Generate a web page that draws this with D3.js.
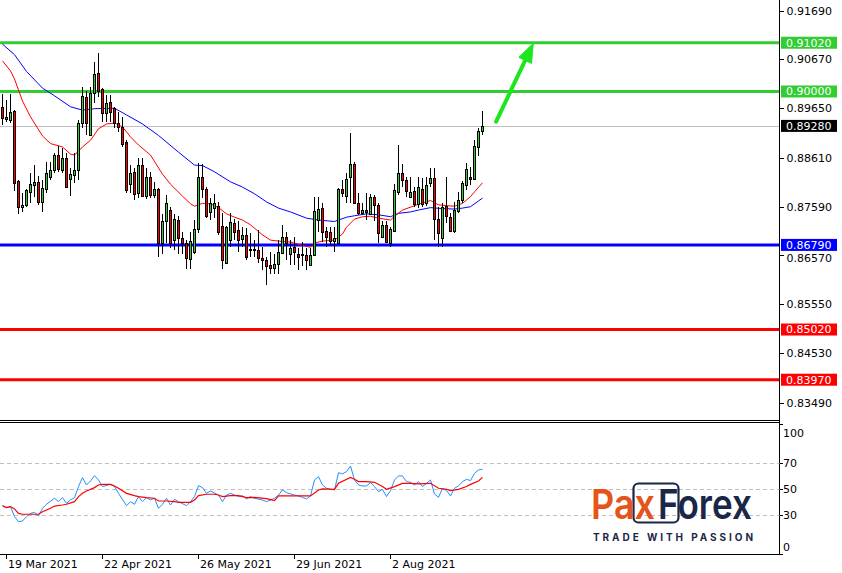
<!DOCTYPE html>
<html><head><meta charset="utf-8">
<script src="https://cdn.jsdelivr.net/npm/d3@7"></script>
<style>body{margin:0;background:#fff;overflow:hidden}svg{display:block}</style>
</head><body>
<script>
// ---------- DATA ----------
const openP = [0.8968,0.8943,0.8940,0.8959,0.8813,0.8758,0.8763,0.8790,0.8805,0.8810,
0.8769,0.8797,0.8821,0.8836,0.8867,0.8836,0.8860,0.8816,0.8825,0.8836,
0.8934,0.8988,0.8909,0.8996,0.9038,0.9005,0.8954,0.8977,0.8965,0.8934,
0.8925,0.8894,0.8806,0.8831,0.8787,0.8846,0.8782,0.8822,0.8783,0.8796,
0.8682,0.8728,0.8752,0.8689,0.8731,0.8693,0.8682,0.8649,0.8665,0.8712,
0.8822,0.8796,0.8747,0.8756,0.8761,0.8719,0.8642,0.8689,0.8724,0.8710,
0.8691,0.8700,0.8668,0.8670,0.8668,0.8651,0.8648,0.8636,0.8630,0.8640,
0.8662,0.8696,0.8661,0.8675,0.8661,0.8661,0.8658,0.8637,0.8658,0.8731,
0.8756,0.8708,0.8705,0.8687,0.8682,0.8797,0.8781,0.8822,0.8848,0.8767,
0.8745,0.8753,0.8744,0.8779,0.8763,0.8696,0.8721,0.8684,0.8709,0.8790,
0.8829,0.8815,0.8780,0.8792,0.8764,0.8797,0.8766,0.8809,0.8820,0.8733,
0.8693,0.8760,0.8738,0.8709,0.8751,0.8774,0.8804,0.8822,0.8816,0.8883,
0.8918];
const highP = [0.8995,0.8982,0.8995,0.8961,0.8815,0.8787,0.8797,0.8829,0.8846,0.8823,
0.8815,0.8853,0.8853,0.8872,0.8885,0.8881,0.8871,0.8839,0.8871,0.8940,
0.9010,0.9000,0.9010,0.9062,0.9081,0.9007,0.8993,0.8993,0.8968,0.8958,
0.8946,0.8898,0.8846,0.8839,0.8860,0.8860,0.8839,0.8832,0.8811,0.8799,
0.8744,0.8783,0.8759,0.8744,0.8740,0.8705,0.8689,0.8705,0.8731,0.8850,
0.8848,0.8801,0.8777,0.8786,0.8769,0.8746,0.8719,0.8745,0.8733,0.8728,
0.8717,0.8714,0.8704,0.8689,0.8710,0.8675,0.8654,0.8665,0.8661,0.8689,
0.8721,0.8707,0.8689,0.8696,0.8672,0.8686,0.8672,0.8672,0.8779,0.8779,
0.8766,0.8717,0.8717,0.8717,0.8799,0.8815,0.8830,0.8913,0.8853,0.8787,
0.8766,0.8788,0.8786,0.8783,0.8767,0.8728,0.8728,0.8717,0.8806,0.8888,
0.8848,0.8822,0.8822,0.8801,0.8822,0.8818,0.8822,0.8839,0.8839,0.8759,
0.8766,0.8822,0.8745,0.8769,0.8790,0.8813,0.8850,0.8843,0.8898,0.8923,
0.8960];
const lowP = [0.8930,0.8936,0.8934,0.8792,0.8743,0.8747,0.8759,0.8766,0.8780,0.8763,
0.8747,0.8787,0.8815,0.8829,0.8832,0.8829,0.8800,0.8782,0.8808,0.8815,
0.8923,0.8909,0.8906,0.8975,0.8989,0.8937,0.8937,0.8937,0.8923,0.8915,
0.8884,0.8787,0.8787,0.8772,0.8777,0.8780,0.8775,0.8777,0.8777,0.8653,
0.8661,0.8682,0.8672,0.8668,0.8661,0.8661,0.8628,0.8628,0.8661,0.8703,
0.8777,0.8735,0.8731,0.8735,0.8700,0.8628,0.8639,0.8674,0.8689,0.8665,
0.8675,0.8648,0.8654,0.8654,0.8641,0.8627,0.8595,0.8619,0.8619,0.8619,
0.8661,0.8648,0.8637,0.8636,0.8627,0.8634,0.8627,0.8636,0.8656,0.8707,
0.8686,0.8675,0.8679,0.8665,0.8681,0.8780,0.8766,0.8766,0.8766,0.8742,
0.8742,0.8731,0.8742,0.8728,0.8682,0.8693,0.8682,0.8675,0.8707,0.8783,
0.8801,0.8780,0.8777,0.8759,0.8756,0.8759,0.8760,0.8801,0.8689,0.8675,
0.8675,0.8725,0.8705,0.8703,0.8745,0.8766,0.8794,0.8804,0.8815,0.8865,
0.8909];
const closeP = [0.8945,0.8946,0.8958,0.8809,0.8758,0.8763,0.8794,0.8806,0.8811,0.8769,
0.8798,0.8829,0.8836,0.8867,0.8837,0.8860,0.8801,0.8827,0.8836,0.8934,
0.8991,0.8934,0.8996,0.9037,0.9000,0.8956,0.8975,0.8958,0.8934,0.8925,
0.8891,0.8794,0.8829,0.8786,0.8846,0.8782,0.8822,0.8783,0.8796,0.8682,
0.8729,0.8766,0.8682,0.8733,0.8693,0.8682,0.8651,0.8687,0.8712,0.8822,
0.8796,0.8739,0.8766,0.8766,0.8705,0.8647,0.8717,0.8726,0.8707,0.8689,
0.8700,0.8653,0.8671,0.8668,0.8651,0.8648,0.8634,0.8630,0.8640,0.8665,
0.8696,0.8684,0.8672,0.8665,0.8654,0.8658,0.8648,0.8658,0.8749,0.8754,
0.8707,0.8695,0.8687,0.8693,0.8797,0.8787,0.8816,0.8848,0.8767,0.8745,
0.8753,0.8747,0.8779,0.8763,0.8703,0.8721,0.8686,0.8712,0.8794,0.8829,
0.8815,0.8792,0.8789,0.8764,0.8801,0.8764,0.8804,0.8820,0.8733,0.8703,
0.8759,0.8739,0.8709,0.8752,0.8774,0.8809,0.8837,0.8816,0.8885,0.8918,
0.8928];

// moving averages (bar index, price)
const maFastIdx = [0,2,3,5,7,10,12,15,17,18,20,22,24,26,28,30,32,34,37,40,42,45,47,48,50,52,54,56,58,60,62,65,67,70,72,75,77,78,80,83,85,86,88,90,92,94,97,98,100,104,107,108,109,111,113,115,117,118,120];
const maFastVal = [0.9064,0.9043,0.9026,0.8980,0.8947,0.8907,0.8891,0.8884,0.8869,0.8867,0.8884,0.8898,0.8922,0.8932,0.8934,0.8926,0.8905,0.8888,0.8867,0.8827,0.8806,0.8781,0.8765,0.8760,0.8766,0.8765,0.8757,0.8744,0.8737,0.8731,0.8721,0.8700,0.8689,0.8686,0.8685,0.8678,0.8674,0.8683,0.8687,0.8689,0.8702,0.8716,0.8733,0.8738,0.8739,0.8735,0.8731,0.8739,0.8752,0.8764,0.8772,0.8767,0.8763,0.8761,0.8760,0.8766,0.8780,0.8790,0.8809];
const maSlowIdx = [0,3,6,10,13,17,20,23,28,31,35,39,44,48,50,53,57,60,63,66,69,72,76,79,83,86,88,91,94,97,99,102,104,107,110,113,115,117,119,120];
const maSlowVal = [0.9099,0.9077,0.9042,0.9007,0.8991,0.8968,0.8961,0.8964,0.8965,0.8951,0.8932,0.8908,0.8873,0.8846,0.8845,0.8832,0.8811,0.8800,0.8786,0.8769,0.8756,0.8748,0.8735,0.8731,0.8728,0.8737,0.8740,0.8744,0.8742,0.8738,0.8745,0.8748,0.8752,0.8757,0.8755,0.8754,0.8756,0.8759,0.8771,0.8777];

// RSI and its signal line (bar index, value)
const rsiIdx = [0,1,2,3,4,5,6,7,8,9,10,11,13,14,15,16,17,18,19,20,21,22,23,24,25,27,28,29,31,32,33,34,35,36,37,38,39,40,41,42,43,44,46,47,48,49,50,51,52,54,55,56,57,59,60,61,62,63,65,66,68,69,70,71,73,74,75,76,77,78,79,80,81,82,83,84,85,86,87,88,89,90,91,92,93,94,95,96,97,98,99,100,101,102,103,104,105,106,107,108,109,110,111,112,113,114,115,116,117,118,119,120];
const rsiVal = [37.4,35.9,36.7,29.0,25.1,25.6,29.0,31.5,32.3,29.5,35.4,38.5,43.1,40.5,43.6,39.2,41.8,43.6,52.1,59.0,53.3,56.4,60.5,57.2,52.1,53.8,52.1,46.9,37.4,40.5,38.5,44.4,40.5,43.6,41.8,43.1,35.4,38.5,43.1,37.9,42.3,40.5,37.4,40.5,44.4,52.8,51.3,46.9,48.7,45.6,40.5,45.6,46.9,44.4,45.1,42.6,44.4,43.1,41.8,40.5,43.1,45.6,49.5,47.4,45.6,44.9,43.8,42.6,44.9,57.2,59.7,53.3,50.8,50.0,49.5,62.8,61.8,63.6,67.9,57.2,53.3,52.6,52.6,55.1,52.1,48.2,50.0,44.4,49.0,57.2,60.3,60.3,55.9,55.4,53.3,55.9,52.1,54.6,57.2,46.4,43.8,50.8,49.0,44.9,50.8,52.6,55.9,57.7,56.7,62.3,64.9,65.4];
const sigIdx = [0,1,2,3,4,5,7,9,10,12,13,15,16,18,19,20,21,23,24,25,27,28,29,31,33,34,36,38,39,41,43,44,47,48,49,51,53,54,55,57,59,61,63,66,68,69,72,74,77,79,80,83,84,87,88,89,91,93,95,96,98,100,102,104,107,109,111,112,114,116,117,119,120];
const sigVal = [37.4,35.9,36.7,34.9,31.5,30.8,30.8,30.8,32.8,35.4,37.1,37.9,38.5,40.5,44.4,46.9,48.7,51.3,53.3,53.8,53.8,52.6,50.8,46.9,45.1,44.4,43.6,43.1,41.0,41.0,40.5,40.0,40.0,41.8,45.1,46.2,46.2,45.6,44.4,45.1,45.1,43.6,43.8,42.8,41.3,44.9,44.9,44.9,44.9,49.5,50.3,50.0,54.6,59.2,57.7,55.9,55.9,55.4,52.1,50.0,52.1,54.6,54.6,54.1,54.6,50.8,50.0,49.0,50.0,52.1,53.8,56.4,59.2];

const priceTicks = [0.91690,0.90670,0.89650,0.88610,0.87590,0.86570,0.85550,0.84530,0.83490];
const levelValues = [0.91020,0.90000,0.86790,0.85020,0.83970];
const lastPrice = 0.89280;
const rsiTicks = [100,70,50,30,0];
const rsiLevels = [70,50,30];
const dateLabels = ["19 Mar 2021","22 Apr 2021","26 May 2021","29 Jun 2021","2 Aug 2021"];
const dateIdx = [1,25,49,73,97];
const arrowFrom = [123.4,0.8937];
const arrowTo = [132.7,0.9101];

// ---------- STYLE ----------
const levelColors = ["#32cd32","#32cd32","#0000ff","#ff0000","#ff0000"];
const FONT = "DejaVu Sans, Verdana, sans-serif";

const W=842,H=573, AX=779.5;
const svg=d3.select("body").append("svg").attr("width",W).attr("height",H)
  .style("font-family",FONT);

const x=d3.scaleLinear().domain([0,120]).range([2.5,482.5]);
const y=d3.scaleLinear().domain([0.83148,0.91914]).range([419,0]);
const yr=d3.scaleLinear().domain([0,100]).range([554.3,424.3]);

// gray last price line
svg.append("line").attr("x1",0).attr("x2",AX).attr("y1",Math.round(y(lastPrice))+0.5).attr("y2",Math.round(y(lastPrice))+0.5)
  .attr("stroke","#c0c0c0").attr("stroke-width",1);

// level lines
svg.selectAll("line.lvl").data(levelValues).join("line").attr("class","lvl")
  .attr("x1",0).attr("x2",AX).attr("y1",d=>y(d)).attr("y2",d=>y(d))
  .attr("stroke",(d,i)=>levelColors[i]).attr("stroke-width",3);

// moving averages
const lineGen=d3.line().x(d=>x(d[0])).y(d=>y(d[1]));
svg.append("path").datum(d3.zip(maSlowIdx,maSlowVal)).attr("d",lineGen)
  .attr("fill","none").attr("stroke","#0000ff").attr("stroke-width",1);
svg.append("path").datum(d3.zip(maFastIdx,maFastVal)).attr("d",lineGen)
  .attr("fill","none").attr("stroke","#ff0000").attr("stroke-width",1);

// candles
const candles=d3.range(openP.length).map(i=>({i,o:openP[i],h:highP[i],l:lowP[i],c:closeP[i]}));
const cg=svg.append("g").attr("shape-rendering","crispEdges");
cg.selectAll("line").data(candles).join("line")
  .attr("x1",d=>x(d.i)).attr("x2",d=>x(d.i))
  .attr("y1",d=>Math.round(y(d.h))).attr("y2",d=>Math.round(y(d.l)))
  .attr("stroke","#000").attr("stroke-width",1);
cg.selectAll("rect").data(candles).join("rect")
  .attr("x",d=>x(d.i)-1).attr("width",2)
  .attr("y",d=>Math.round(y(Math.max(d.o,d.c)))+0.5)
  .attr("height",d=>Math.max(1,Math.round(y(Math.min(d.o,d.c)))-Math.round(y(Math.max(d.o,d.c)))))
  .attr("fill",d=>d.c>=d.o?"#32cd32":"#ff0000").attr("stroke","#000").attr("stroke-width",1);

// arrow
const ax1=x(arrowFrom[0]), ay1=y(arrowFrom[1]), ax2=x(arrowTo[0]), ay2=y(arrowTo[1]);
const dx=ax2-ax1, dy=ay2-ay1, len=Math.hypot(dx,dy), ux=dx/len, uy=dy/len;
const headL=19, headW=7;
const bx=ax2-ux*headL, by=ay2-uy*headL;
svg.append("line").attr("x1",ax1).attr("y1",ay1).attr("x2",bx+ux*2).attr("y2",by+uy*2)
  .attr("stroke","#1ee61e").attr("stroke-width",4).attr("stroke-linecap","round");
svg.append("path").attr("d",`M${ax2},${ay2}L${bx-uy*headW},${by+ux*headW}L${bx+uy*headW},${by-ux*headW}Z`)
  .attr("fill","#1ee61e").attr("stroke","#1ee61e").attr("stroke-width",1).attr("stroke-linejoin","round");

// panel borders
const bg=svg.append("g").attr("shape-rendering","crispEdges").attr("stroke","#000");
bg.append("line").attr("x1",0).attr("x2",AX).attr("y1",420.5).attr("y2",420.5);
bg.append("line").attr("x1",0).attr("x2",AX).attr("y1",422.5).attr("y2",422.5);
bg.append("line").attr("x1",0).attr("x2",AX).attr("y1",554.5).attr("y2",554.5);
bg.append("line").attr("x1",AX).attr("x2",AX).attr("y1",0).attr("y2",555);

// price axis
const pa=svg.append("g").attr("transform",`translate(${AX},0)`)
  .call(d3.axisRight(y).tickValues(priceTicks).tickSize(4).tickPadding(3).tickFormat(d3.format(".5f")));
pa.select(".domain").remove();
pa.selectAll("text").attr("font-size",11).attr("font-family",FONT).attr("fill","#000");
pa.selectAll("line").attr("shape-rendering","crispEdges");
// nudge a tick label that sits right under a level tag so the two stay readable
pa.selectAll(".tick").filter(d=>levelValues.some(v=>Math.abs(y(v)-y(d))<12))
  .select("text").attr("y",3);

// level labels
const lab=svg.append("g");
const allLabels=levelValues.map((v,i)=>({v,col:levelColors[i]})).concat([{v:lastPrice,col:"#000"}]);
lab.selectAll("rect").data(allLabels).join("rect")
  .attr("x",781).attr("width",56).attr("y",d=>y(d.v)-6).attr("height",12).attr("fill",d=>d.col);
lab.selectAll("text").data(allLabels).join("text")
  .attr("x",786).attr("y",d=>y(d.v)).attr("dy","0.35em").attr("font-size",11).attr("fill","#fff")
  .text(d=>d3.format(".5f")(d.v));

// RSI panel
svg.selectAll("line.rl").data(rsiLevels).join("line").attr("class","rl")
  .attr("x1",0).attr("x2",AX).attr("y1",d=>Math.round(yr(d))+0.5).attr("y2",d=>Math.round(yr(d))+0.5)
  .attr("stroke","#c0c0c0").attr("stroke-dasharray","4,3");
const rl=d3.line().x(d=>x(d[0])).y(d=>yr(d[1]));
svg.append("path").datum(d3.zip(rsiIdx,rsiVal)).attr("d",rl)
  .attr("fill","none").attr("stroke","#1e90ff").attr("stroke-width",1);
svg.append("path").datum(d3.zip(sigIdx,sigVal)).attr("d",rl)
  .attr("fill","none").attr("stroke","#ff0000").attr("stroke-width",1.2);

const ra=svg.append("g");
ra.selectAll("line").data(rsiTicks).join("line")
  .attr("x1",AX).attr("x2",AX+3).attr("y1",d=>Math.round(yr(d))+0.5).attr("y2",d=>Math.round(yr(d))+0.5)
  .attr("stroke","#000").attr("shape-rendering","crispEdges");
ra.selectAll("text").data(rsiTicks).join("text")
  .attr("x",783).attr("y",d=>yr(d)+(d===100?8.4:d===0?-7.6:0)).attr("dy","0.35em")
  .attr("font-size",11).attr("fill","#000").text(d=>d);

// date axis
const da=svg.append("g").attr("transform","translate(0,554.5)")
  .call(d3.axisBottom(x).tickValues(dateIdx).tickSize(4).tickFormat((d,i)=>dateLabels[i]));
da.select(".domain").remove();
da.selectAll("line").attr("transform","translate(-0.5,0)").attr("shape-rendering","crispEdges");
da.selectAll("text").attr("text-anchor","start").attr("x",1).attr("y",6).attr("dy","0.71em")
  .attr("font-size",11).attr("font-family",FONT).attr("fill","#000");

// logo
const lg=svg.append("g").attr("font-family","Inter, 'Open Sans', sans-serif").attr("font-weight",600);
lg.append("rect").attr("x",633.5).attr("y",483.5).attr("width",45).attr("height",39).attr("rx",5)
  .attr("fill","none").attr("stroke","#1a2747").attr("stroke-width",2.2);
lg.append("text").attr("x",591).attr("y",518.5).attr("font-size",41).attr("fill","#e4541b")
  .attr("textLength",64).attr("lengthAdjust","spacingAndGlyphs").text("Pax");
lg.append("text").attr("x",658).attr("y",518.5).attr("font-size",41).attr("fill","#1a2747")
  .attr("textLength",94).attr("lengthAdjust","spacingAndGlyphs").text("Forex");
lg.append("text").attr("x",593).attr("y",540.5).attr("font-size",10).attr("font-weight",700).attr("fill","#1a2747")
  .attr("textLength",160).attr("lengthAdjust","spacing").text("TRADE WITH PASSION");
</script>
</body></html>
